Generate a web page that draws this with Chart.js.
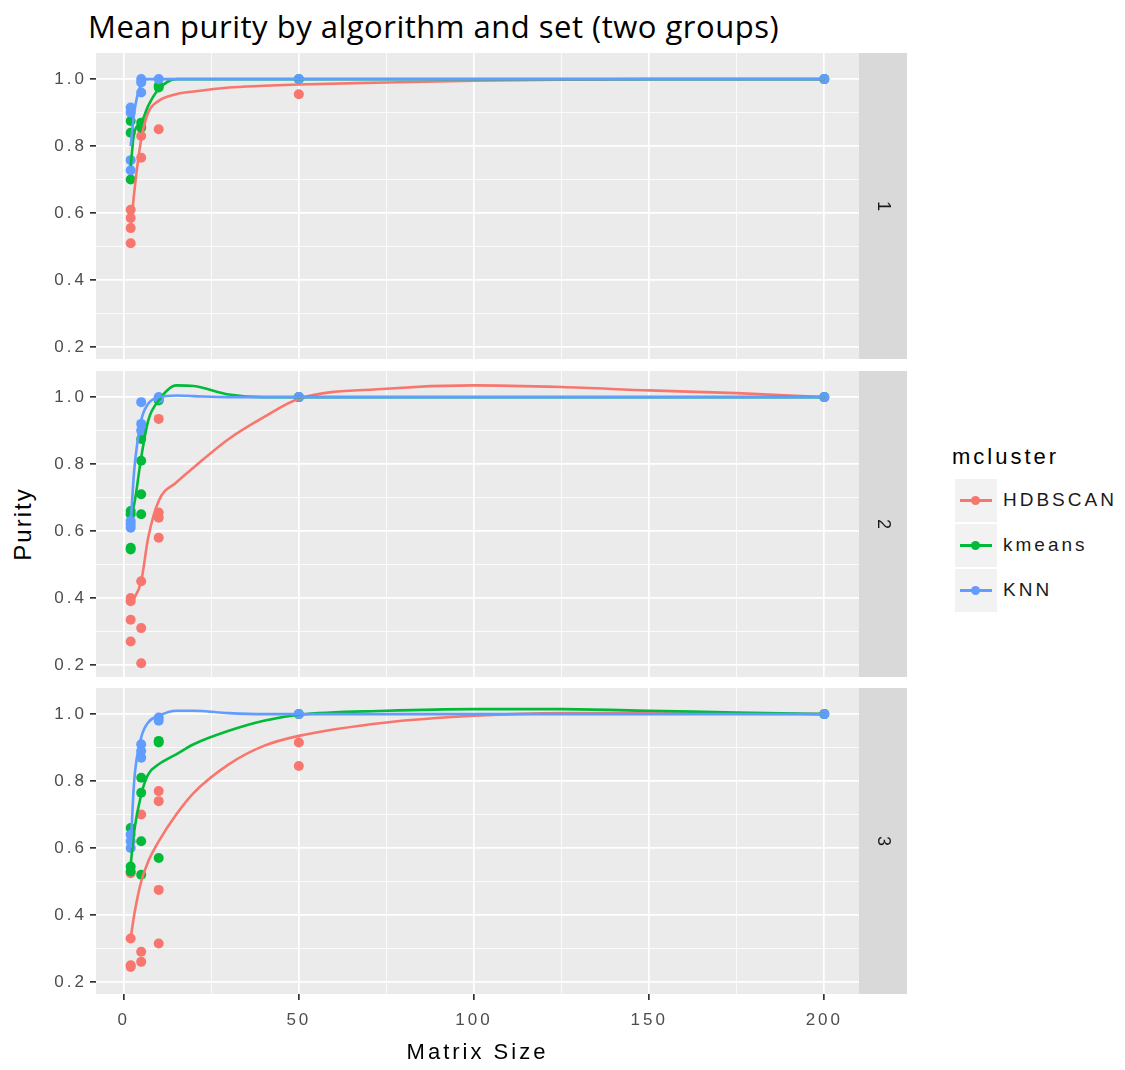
<!DOCTYPE html>
<html>
<head>
<meta charset="utf-8">
<script src="https://cdn.jsdelivr.net/npm/chart.js@4.4.0/dist/chart.umd.min.js"></script>
<style>
  body { margin: 0; background: #fff; }
  #wrap { position: relative; width: 1125px; height: 1070px; overflow: hidden; font-family: "Liberation Sans", Arial, sans-serif; }
  #title { position: absolute; left: 88px; top: 5px; font-family: "Open Sans", sans-serif; font-size: 31px; letter-spacing: 0.5px; color: #000; white-space: nowrap; }
  #ylab { position: absolute; left: 23px; top: 524px; transform: translate(-50%, -50%) rotate(-90deg); font-size: 24px; letter-spacing: 2px; color: #000; white-space: nowrap; }
  canvas { position: absolute; left: 0; }
  #legend { position: absolute; left: 952px; top: 444px; }
  #legend .lt { font-size: 22px; letter-spacing: 3px; color: #000; margin-bottom: 8px; }
  #legend .row { position: relative; height: 45px; }
  #legend .key { position: absolute; left: 3px; top: 1px; width: 42px; height: 43px; background: #f2f2f2; }
  #legend .ln { position: absolute; left: 5px; top: 20px; width: 32px; height: 3px; }
  #legend .dot { position: absolute; left: 16px; top: 17px; width: 9px; height: 9px; border-radius: 50%; }
  #legend .lab { position: absolute; left: 51px; top: 11px; font-size: 19px; letter-spacing: 3px; color: #1a1a1a; white-space: nowrap; }
</style>
</head>
<body>
<div id="wrap">
  <div id="title">Mean purity by algorithm and set (two groups)</div>
  <div id="ylab">Purity</div>
  <canvas id="p1" width="910" height="306" style="top:53px"></canvas>
  <canvas id="p2" width="910" height="306" style="top:371px"></canvas>
  <canvas id="p3" width="910" height="382" style="top:688px"></canvas>
  <div id="legend"></div>
</div>
<script>
// series names + colours (ggplot default hues)
const algos = ["HDBSCAN", "kmeans", "KNN"];
const colors = ["#F8766D", "#00BA38", "#619CFF"];
const facets = ["1", "2", "3"];

// tick values
const xMajor = [0, 50, 100, 150, 200];
const xMinor = [25, 75, 125, 175];
const yMajor = [0.2, 0.4, 0.6, 0.8, 1.0];
const yMinor = [0.3, 0.5, 0.7, 0.9];

// observed points [matrix size, purity]
const hdb1Pts = [[2, 0.61], [2, 0.585], [2, 0.555], [2, 0.51], [5, 0.83], [5, 0.765], [10, 0.85], [50, 0.955], [200, 1.0]];
const km1Pts = [[2, 0.70], [2, 0.84], [2, 0.875], [5, 0.87], [5, 0.855], [10, 0.98], [10, 0.975], [50, 1.0], [200, 1.0]];
const knn1Pts = [[2, 0.915], [2, 0.90], [2, 0.758], [2, 0.728], [5, 1.0], [5, 0.99], [5, 0.96], [10, 1.0], [50, 1.0], [200, 1.0]];

const hdb2Pts = [[2, 0.40], [2, 0.39], [2, 0.335], [2, 0.27], [5, 0.45], [5, 0.31], [5, 0.205], [10, 0.935], [10, 0.655], [10, 0.64], [10, 0.58], [50, 1.0], [200, 1.0]];
const km2Pts = [[2, 0.66], [2, 0.65], [2, 0.55], [2, 0.545], [5, 0.875], [5, 0.81], [5, 0.71], [5, 0.65], [10, 0.99], [50, 1.0], [200, 1.0]];
const knn2Pts = [[2, 0.63], [2, 0.62], [2, 0.61], [5, 0.985], [5, 0.92], [5, 0.90], [10, 1.0], [10, 0.995], [50, 1.0], [200, 1.0]];

const hdb3Pts = [[2, 0.525], [2, 0.33], [2, 0.25], [2, 0.245], [5, 0.70], [5, 0.29], [5, 0.26], [10, 0.77], [10, 0.74], [10, 0.475], [10, 0.315], [50, 0.915], [50, 0.845], [200, 1.0]];
const km3Pts = [[2, 0.66], [2, 0.545], [2, 0.53], [5, 0.81], [5, 0.765], [5, 0.62], [5, 0.52], [10, 0.92], [10, 0.915], [10, 0.57], [50, 1.0], [200, 1.0]];
const knn3Pts = [[2, 0.64], [2, 0.62], [2, 0.60], [5, 0.91], [5, 0.89], [5, 0.87], [10, 0.99], [10, 0.98], [50, 1.0], [200, 1.0]];

// smoothed fits, read along these x positions
const smoothX = [2, 3, 5, 7, 10, 15, 20, 30, 40, 50, 75, 100, 125, 150, 175, 200];
const hdb1Fit = [0.55, 0.66, 0.82, 0.90, 0.935, 0.955, 0.963, 0.975, 0.98, 0.984, 0.99, 0.995, 0.998, 1.0, 1.0, 1.0];
const km1Fit = [0.74, 0.84, 0.87, 0.92, 0.97, 1.0, 1.0, 1.0, 1.0, 1.0, 1.0, 1.0, 1.0, 1.0, 1.0, 1.0];
const knn1Fit = [0.80, 0.90, 0.985, 1.0, 1.0, 1.0, 1.0, 1.0, 1.0, 1.0, 1.0, 1.0, 1.0, 1.0, 1.0, 1.0];

const hdb2Fit = [0.39, 0.40, 0.45, 0.58, 0.69, 0.745, 0.79, 0.875, 0.94, 0.995, 1.025, 1.035, 1.03, 1.02, 1.012, 1.0];
const km2Fit = [0.65, 0.68, 0.82, 0.93, 0.99, 1.035, 1.033, 1.008, 1.0, 1.0, 1.0, 1.0, 1.0, 1.0, 1.0, 1.0];
const knn2Fit = [0.62, 0.78, 0.93, 0.98, 1.0, 1.005, 1.003, 1.0, 1.0, 1.0, 1.0, 1.0, 1.0, 1.0, 1.0, 1.0];

const hdb3Fit = [0.33, 0.40, 0.50, 0.56, 0.62, 0.70, 0.765, 0.85, 0.905, 0.935, 0.975, 0.995, 1.003, 1.003, 1.001, 1.0];
const km3Fit = [0.55, 0.65, 0.76, 0.82, 0.85, 0.88, 0.91, 0.95, 0.98, 0.998, 1.01, 1.015, 1.015, 1.01, 1.005, 1.0];
const knn3Fit = [0.60, 0.80, 0.93, 0.975, 0.995, 1.01, 1.01, 1.003, 1.0, 1.0, 1.0, 1.0, 1.0, 1.0, 1.0, 1.0];

const panels = [
  { id: "p1", pts: [hdb1Pts, km1Pts, knn1Pts], fits: [hdb1Fit, km1Fit, knn1Fit] },
  { id: "p2", pts: [hdb2Pts, km2Pts, knn2Pts], fits: [hdb2Fit, km2Fit, knn2Fit] },
  { id: "p3", pts: [hdb3Pts, km3Pts, knn3Pts], fits: [hdb3Fit, km3Fit, knn3Fit] },
];

const tickFont = { family: "Liberation Sans, Arial, sans-serif", size: 17 };

// grey panel background + facet strip on the right
const facetPlugin = {
  id: "facet",
  beforeUpdate(chart) { chart.ctx.letterSpacing = "3px"; },
  beforeDraw(chart) {
    const a = chart.chartArea, c = chart.ctx;
    c.letterSpacing = "3px";
    c.save();
    c.fillStyle = "#EBEBEB";
    c.fillRect(a.left, a.top, a.right - a.left, a.bottom - a.top);
    c.restore();
  },
  afterDraw(chart, args, opts) {
    const a = chart.chartArea, c = chart.ctx;
    c.save();
    c.fillStyle = "#D9D9D9";
    c.fillRect(a.right, a.top, 48, a.bottom - a.top);
    c.translate(a.right + 24, (a.top + a.bottom) / 2);
    c.rotate(Math.PI / 2);
    c.letterSpacing = "0px";
    c.fillStyle = "#1A1A1A";
    c.font = "18px Liberation Sans, Arial, sans-serif";
    c.textAlign = "center";
    c.textBaseline = "middle";
    c.fillText(opts.label, 0, 0);
    c.restore();
  }
};

panels.forEach((p, i) => {
  const last = i === panels.length - 1;
  const datasets = [];
  // fitted lines on top (lower order drawn last)
  p.fits.forEach((f, k) => {
    datasets.push({
      label: algos[k] + " fit",
      data: smoothX.map((x, j) => ({ x: x, y: f[j] })),
      showLine: true,
      borderColor: colors[k],
      borderWidth: 2.6,
      pointRadius: 0,
      cubicInterpolationMode: "monotone",
      order: 3 - k,
    });
  });
  p.pts.forEach((pts, k) => {
    datasets.push({
      label: algos[k],
      data: pts.map(d => ({ x: d[0], y: d[1] })),
      backgroundColor: colors[k],
      borderWidth: 0,
      pointRadius: 5,
      order: 6 - k,
    });
  });

  new Chart(document.getElementById(p.id), {
    type: "scatter",
    data: { datasets: datasets },
    plugins: [facetPlugin],
    options: {
      responsive: false,
      animation: false,
      layout: { autoPadding: false, padding: { left: 0, right: 51, top: 0, bottom: 0 } },
      plugins: {
        legend: { display: false },
        tooltip: { enabled: false },
        facet: { label: facets[i] },
      },
      scales: {
        x: {
          type: "linear",
          min: -7.9,
          max: 209.9,
          afterBuildTicks: s => { s.ticks = xMajor.concat(xMinor).sort((a, b) => a - b).map(v => ({ value: v })); },
          afterFit: s => { s.height = last ? 76 : 0; s.paddingLeft = 0; s.paddingRight = 0; },
          border: { display: false },
          grid: {
            color: "#FFFFFF",
            lineWidth: c => xMajor.includes(c.tick && c.tick.value) ? 1.7 : 0.8,
            drawTicks: last,
            tickLength: 6,
            tickColor: c => xMajor.includes(c.tick && c.tick.value) ? "#333333" : "rgba(0,0,0,0)",
          },
          ticks: {
            display: last,
            autoSkip: false,
            maxRotation: 0,
            padding: 10,
            color: "#4D4D4D",
            font: tickFont,
            callback: v => xMajor.includes(v) ? String(v) : "",
          },
          title: {
            display: last,
            text: "Matrix Size",
            color: "#000",
            font: { family: "Liberation Sans, Arial, sans-serif", size: 22 },
            padding: { top: 0, bottom: 4 },
          },
        },
        y: {
          type: "linear",
          min: 0.164,
          max: 1.078,
          afterBuildTicks: s => { s.ticks = yMajor.concat(yMinor).sort((a, b) => a - b).map(v => ({ value: v })); },
          afterFit: s => { s.width = 96; s.paddingTop = 0; s.paddingBottom = 0; },
          border: { display: false },
          grid: {
            color: "#FFFFFF",
            lineWidth: c => yMajor.includes(c.tick && c.tick.value) ? 1.7 : 0.8,
            tickLength: 6,
            tickColor: c => yMajor.includes(c.tick && c.tick.value) ? "#333333" : "rgba(0,0,0,0)",
          },
          ticks: {
            autoSkip: false,
            padding: 3,
            color: "#4D4D4D",
            font: tickFont,
            callback: v => yMajor.includes(v) ? v.toFixed(1) : "",
          },
        },
      },
    },
  });
});

// legend, built from the same names/colours
const lg = document.getElementById("legend");
let html = '<div class="lt">mcluster</div>';
algos.forEach((a, k) => {
  html += '<div class="row"><div class="key"><div class="ln" style="background:' + colors[k] + '"></div>' +
    '<div class="dot" style="background:' + colors[k] + '"></div></div><div class="lab">' + a + '</div></div>';
});
lg.innerHTML = html;
</script>
</body>
</html>
